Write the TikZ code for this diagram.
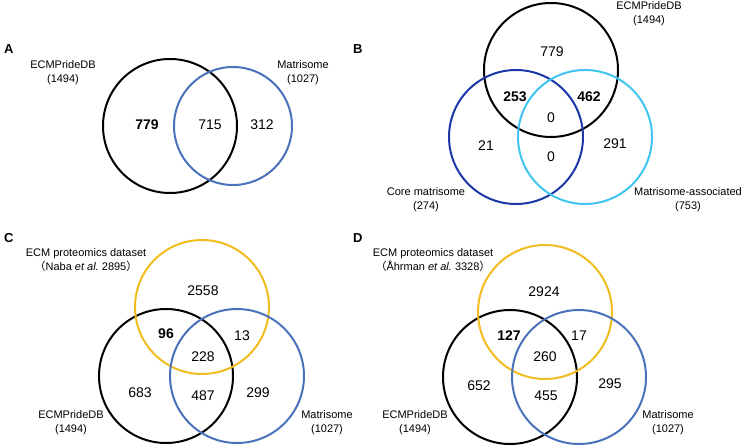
\documentclass[tikz,border=0pt]{standalone}
\usepackage{fontspec}
\setmainfont{Liberation Sans}
\newfontfamily\cjk{Noto Sans CJK SC}
\definecolor{cblue}{RGB}{74,114,186}
\definecolor{cdark}{RGB}{28,56,168}
\definecolor{clight}{RGB}{64,196,240}
\definecolor{cyellow}{RGB}{240,188,30}
\tikzset{
  venn/.style={circle, draw, line width=2pt, inner sep=0, outer sep=0},
  num/.style={font=\fontsize{14}{16}\selectfont, inner sep=0},
  bnum/.style={font=\fontsize{14}{16}\selectfont\bfseries, inner sep=0},
  lab/.style={font=\fontsize{11}{14}\selectfont, align=center, inner sep=0},
  panel/.style={font=\fontsize{13}{15}\selectfont\bfseries, inner sep=0, anchor=west}
}
\begin{document}
\begin{tikzpicture}[x=1pt,y=-1pt]
\useasboundingbox (0,0) rectangle (743,446);
% ---------- Panel A ----------
\node[panel] (pA) at (4,49) {A};
\node[venn, draw=black, minimum size=134pt] (Ae) at (170,126) {};
\node[venn, draw=cblue, minimum size=118pt] (Am) at (233,126) {};
\node[lab] (Ael) at (63,73) {ECMPrideDB\\(1494)};
\node[lab] (Aml) at (303,73) {Matrisome\\(1027)};
\node[bnum] (A1) at (147,125) {779};
\node[num] (A2) at (210,125) {715};
\node[num] (A3) at (262,125) {312};
% ---------- Panel B ----------
\node[panel] (pB) at (353,49) {B};
\node[venn, draw=black, minimum size=134pt] (Be) at (551,70) {};
\node[venn, draw=cdark, minimum size=134pt] (Bc) at (516,137) {};
\node[venn, draw=clight, minimum size=134pt] (Ba) at (585,137) {};
\node[lab] (Bel) at (649,14) {ECMPrideDB\\(1494)};
\node[lab] (Bcl) at (426,200) {Core matrisome\\(274)};
\node[lab] (Bal) at (688,200) {Matrisome-associated\\(753)};
\node[num] (B1) at (552,52) {779};
\node[bnum] (B2) at (515,97) {253};
\node[bnum] (B3) at (589,97) {462};
\node[num] (B4) at (551,118) {0};
\node[num] (B5) at (486,146) {21};
\node[num] (B6) at (551,157) {0};
\node[num] (B7) at (615,144) {291};
% ---------- Panel C ----------
\node[panel] (pC) at (4,238) {C};
\node[venn, draw=black, minimum size=134pt] (Ce) at (166,376) {};
\node[venn, draw=cyellow, minimum size=134pt] (Cy) at (202,307) {};
\node[venn, draw=cblue, minimum size=134pt] (Cm) at (237,376) {};
\node[lab] (Cyl) at (86,260) {ECM proteomics dataset\\{\cjk （}Naba \textit{et al.}\ 2895{\cjk ）}};
\node[lab] (Cel) at (71,423) {ECMPrideDB\\(1494)};
\node[lab] (Cml) at (327,423) {Matrisome\\(1027)};
\node[num] (C1) at (203,291) {2558};
\node[bnum] (C2) at (166,334) {96};
\node[num] (C3) at (242,336) {13};
\node[num] (C4) at (203,357) {228};
\node[num] (C5) at (140,393) {683};
\node[num] (C6) at (203,396) {487};
\node[num] (C7) at (258,393) {299};
% ---------- Panel D ----------
\node[panel] (pD) at (353,238) {D};
\node[venn, draw=black, minimum size=134pt] (De) at (510,377) {};
\node[venn, draw=cyellow, minimum size=134pt] (Dy) at (545,312) {};
\node[venn, draw=cblue, minimum size=134pt] (Dm) at (579,377) {};
\node[lab] (Dyl) at (433,260) {ECM proteomics dataset\\{\cjk （}Åhrman \textit{et al.}\ 3328{\cjk ）}};
\node[lab] (Del) at (415,423) {ECMPrideDB\\(1494)};
\node[lab] (Dml) at (668,423) {Matrisome\\(1027)};
\node[num] (D1) at (544,292) {2924};
\node[bnum] (D2) at (509,336) {127};
\node[num] (D3) at (579,336) {17};
\node[num] (D4) at (545,357) {260};
\node[num] (D5) at (479,386) {652};
\node[num] (D6) at (546,396) {455};
\node[num] (D7) at (610,384) {295};
\end{tikzpicture}
\end{document}
